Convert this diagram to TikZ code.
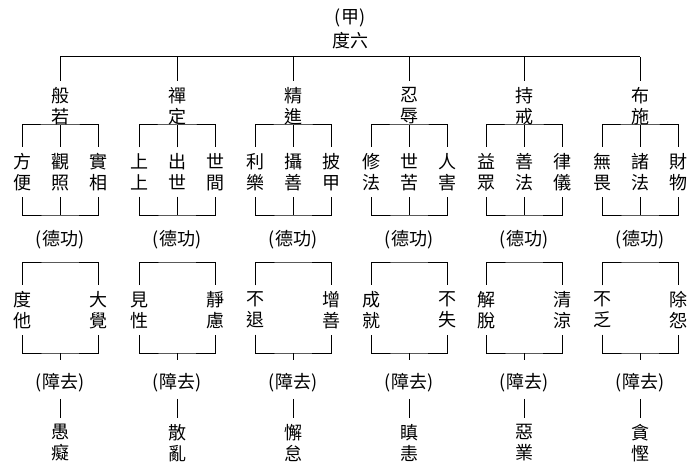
\documentclass[tikz,border=0pt]{standalone}
\usepackage{fontspec}
\newfontfamily\cjk{Noto Sans CJK TC}
\usetikzlibrary{calc}

\begin{document}
\begin{tikzpicture}[x=1pt, y=-1pt, line width=1pt,
    every node/.style={font=\cjk\fontsize{18}{21}\selectfont, align=center, inner xsep=0pt, inner ysep=6pt}]
    \useasboundingbox (0,0) rectangle (700,470);
    \node[font=\cjk\fontsize{18}{24}\selectfont] (root) at (350,29) {(甲)\\度六};
    \coordinate (bar) at (350,57);
    \foreach \x/\t/\a/\b/\c/\d/\e/\f [count=\i] in {
        60/{般\\若}/{方\\便}/{觀\\照}/{實\\相}/{度\\他}/{大\\覺}/{愚\\癡},
        177/{禪\\定}/{上\\上}/{出\\世}/{世\\間}/{見\\性}/{靜\\慮}/{散\\亂},
        293/{精\\進}/{利\\樂}/{攝\\善}/{披\\甲}/{不\\退}/{增\\善}/{懈\\怠},
        409/{忍\\辱}/{修\\法}/{世\\苦}/{人\\害}/{成\\就}/{不\\失}/{瞋\\恚},
        524/{持\\戒}/{益\\眾}/{善\\法}/{律\\儀}/{解\\脫}/{清\\涼}/{惡\\業},
        640/{布\\施}/{無\\畏}/{諸\\法}/{財\\物}/{不\\乏}/{除\\怨}/{貪\\慳}} {
        \node (t\i) at (\x,106) {\t};
        \node (a\i) at (\x-38,172) {\a};
        \node (b\i) at (\x,172) {\b};
        \node (c\i) at (\x+38,172) {\c};
        \node (g\i) at (\x,240) {(德功)};
        \node (d\i) at (\x-38,310) {\d};
        \node (e\i) at (\x+38,310) {\e};
        \node (h\i) at (\x,383) {(障去)};
        \node (f\i) at (\x,443) {\f};
        \coordinate (u\i) at (\x,125);
        \coordinate (v\i) at (\x,215);
        \coordinate (w\i) at (\x,262);
        \coordinate (z\i) at (\x,353);
        \coordinate (s\i) at (\x,360);
        \draw (t\i.north) -- (t\i.north |- bar);
        \draw (a\i.north) |- (u\i) -| (c\i.north);
        \draw (b\i.north) -- (u\i);
        \draw (a\i.south) |- (v\i) -| (c\i.south);
        \draw (b\i.south) -- (v\i);
        \draw (d\i.north) |- (w\i) -| (e\i.north);
        \draw (d\i.south) |- (z\i) -| (e\i.south);
        \draw (z\i) -- (s\i);
        \draw (h\i.south) -- (f\i.north);
    }
    \draw (t1.north |- bar) -- (t6.north |- bar);
\end{tikzpicture}
\end{document}
